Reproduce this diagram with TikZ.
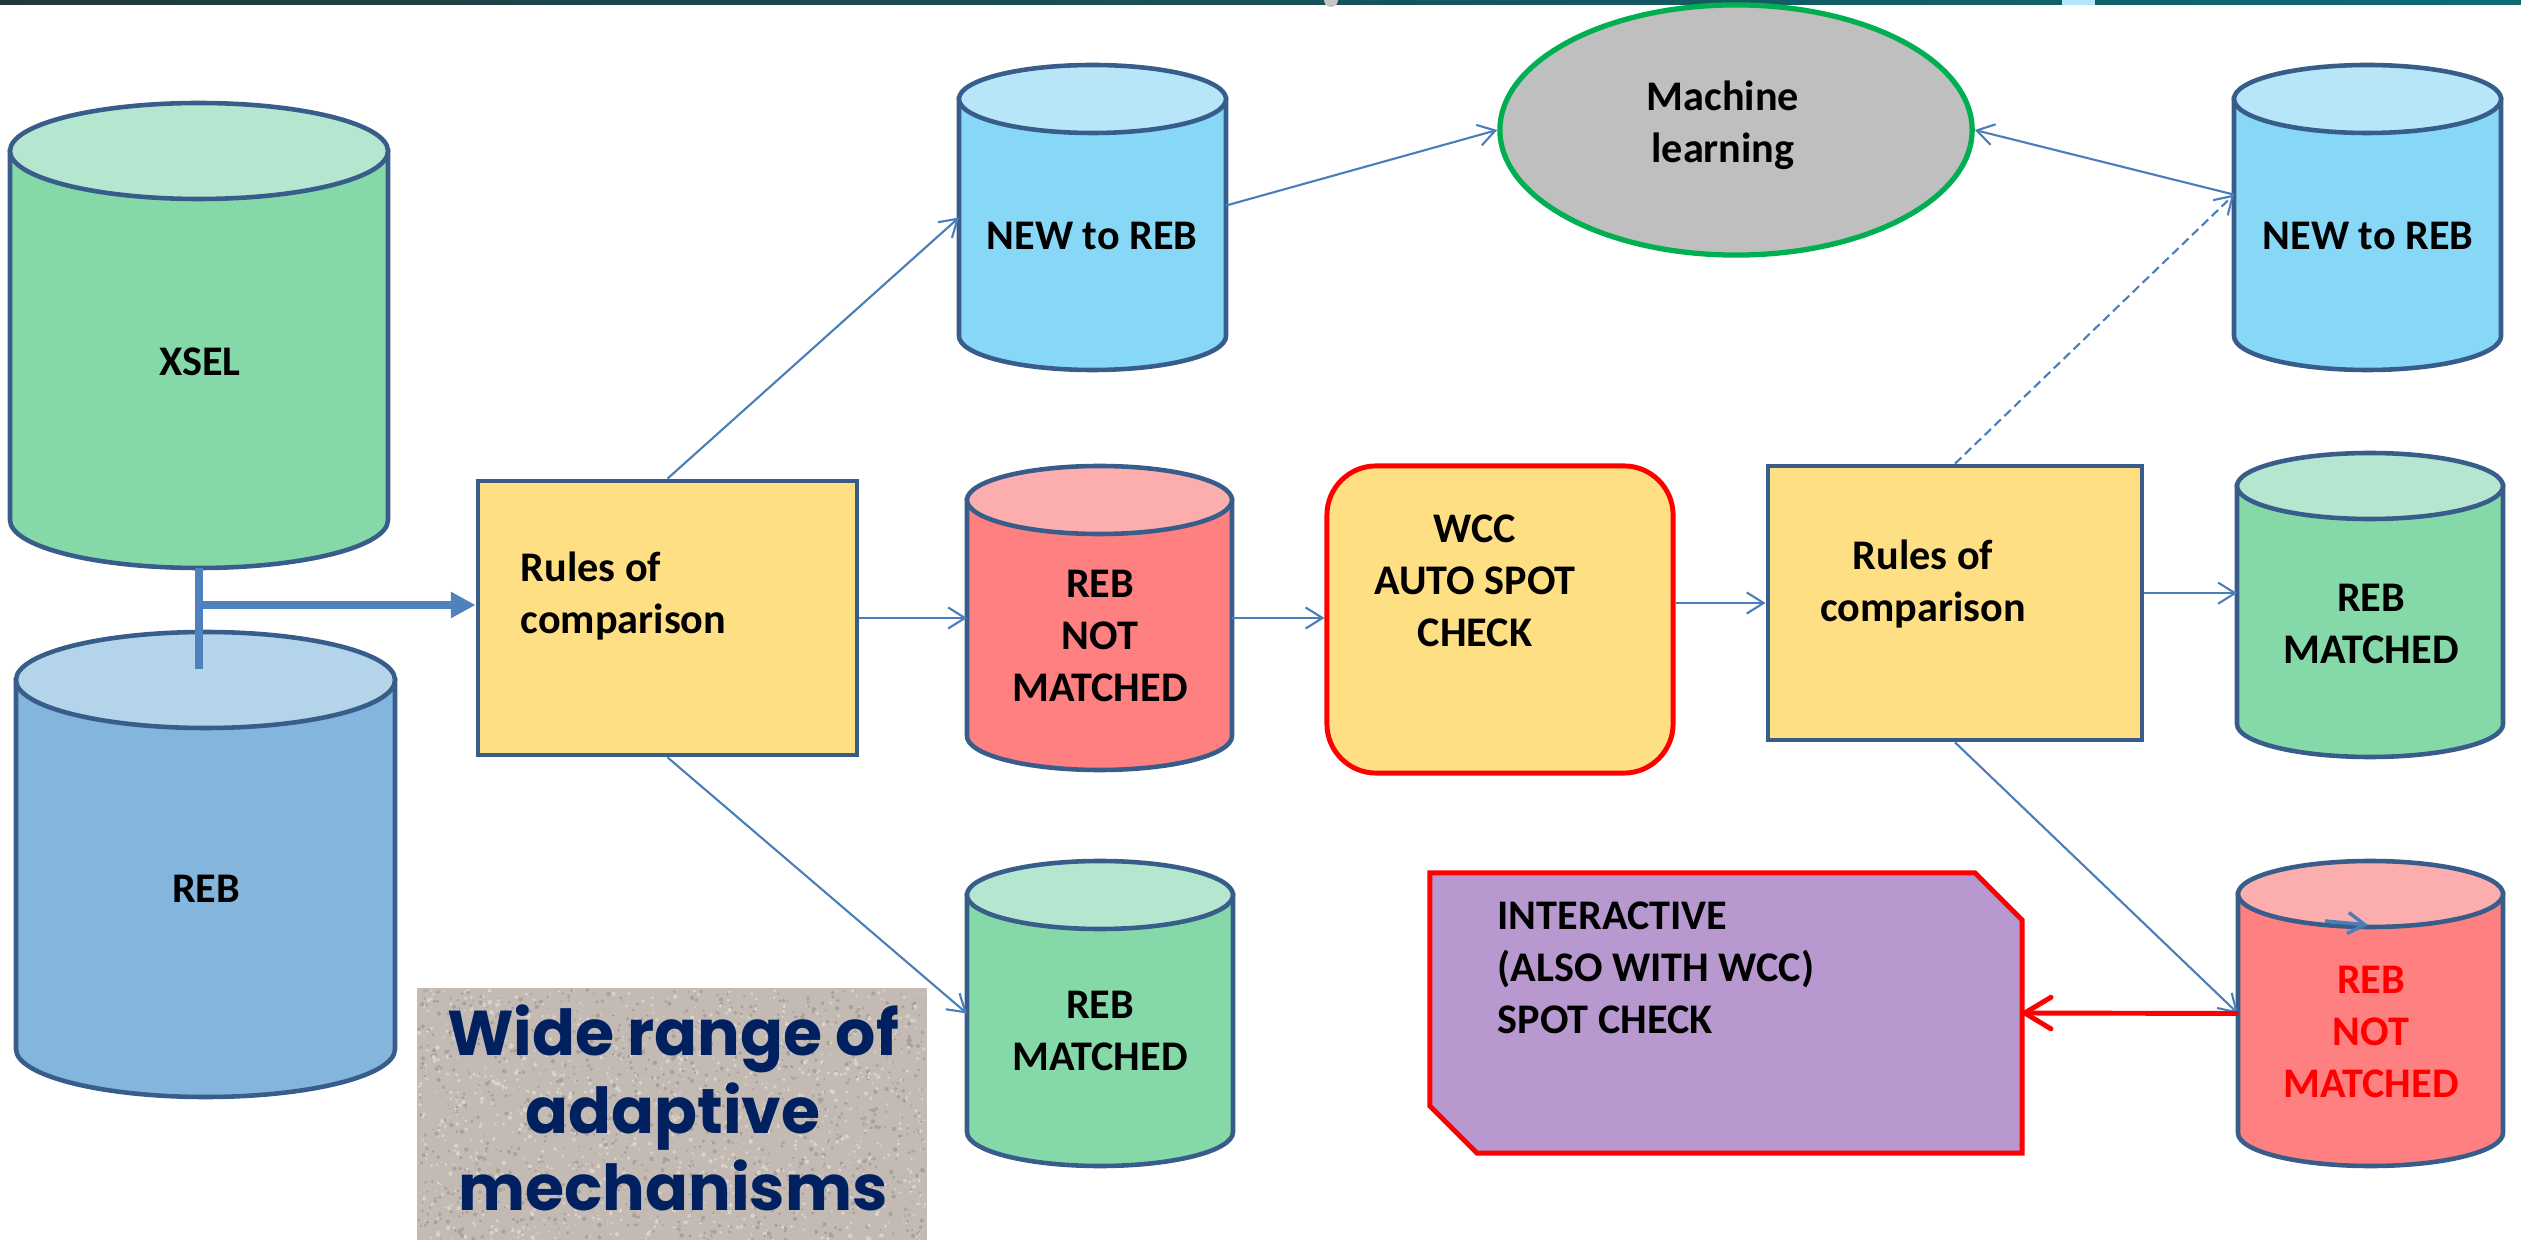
\documentclass[tikz,border=0pt]{standalone}
\usepackage{fontspec}
\setmainfont{Carlito}
\newfontfamily\wfont{Poppins}
\usetikzlibrary{arrows.meta,shapes.geometric,calc}
\definecolor{outl}{HTML}{385D8A}
\definecolor{connc}{HTML}{4A7EBB}
\definecolor{trunkc}{HTML}{4F81BD}
\definecolor{gbody}{HTML}{85D9A9}
\definecolor{gtop}{HTML}{B5E6CF}
\definecolor{bbody}{HTML}{83B5DD}
\definecolor{btop}{HTML}{B4D4EA}
\definecolor{cbody}{HTML}{87D8F6}
\definecolor{ctop}{HTML}{B7E6F8}
\definecolor{rbody}{HTML}{FF8080}
\definecolor{rtop}{HTML}{FCAEAE}
\definecolor{yel}{HTML}{FFDF84}
\definecolor{purp}{HTML}{B799CF}
\definecolor{mlgray}{HTML}{BFBFBF}
\definecolor{mlgreen}{HTML}{00B050}
\definecolor{navy}{HTML}{002060}
\definecolor{granite}{HTML}{C2BAB3}
\definecolor{grlight}{HTML}{D9D3CD}
\definecolor{grdark}{HTML}{A8A09A}
\definecolor{bannerA}{HTML}{22393C}
\definecolor{bannerB}{HTML}{0F1820}
\definecolor{bannerC}{HTML}{0D6A75}
\definecolor{pureRed}{HTML}{FF0000}
\tikzset{
  cylbox/.style={rectangle, inner sep=0pt, outer sep=0pt},
  cylline/.style={draw=outl, line width=1.3pt},
  rulebox/.style={rectangle, draw=outl, line width=1.3pt, fill=yel, inner sep=0pt},
  lbl/.style={inner sep=0pt, align=center, font=\bfseries\fontsize{12}{14.8}\selectfont},
  conn/.style={draw=connc, line width=0.6pt, -{Straight Barb[length=4.8pt,width=6pt]}},
  trunk/.style={draw=trunkc, line width=2.1pt},
  redarrow/.style={draw=pureRed, line width=1.4pt, -{Straight Barb[length=7.5pt,width=9pt,round]}},
}
% name, x1, x2, ytop, ybottom, ry, body colour, top colour
\newcommand\dbcyl[8]{%
  \pgfmathsetmacro\cylcx{(#2+#3)/2}%
  \pgfmathsetmacro\cylrx{(#3-#2)/2}%
  \pgfmathsetmacro\cylyt{#4+#6}%
  \pgfmathsetmacro\cylyb{#5-#6}%
  \pgfmathsetmacro\cylcy{(#4+#5)/2}%
  \pgfmathsetmacro\cylw{(#3-#2)*0.01}%
  \pgfmathsetmacro\cylh{(#5-#4)*0.01}%
  \node[cylbox, minimum width=\cylw cm, minimum height=\cylh cm] (#1) at (\cylcx,\cylcy) {};
  \path[cylline, fill=#7] (#2,\cylyt) -- (#2,\cylyb) arc[start angle=180, end angle=0, x radius=\cylrx, y radius=#6] -- (#3,\cylyt) -- cycle;
  \path[cylline, fill=#8] (\cylcx,\cylyt) ellipse[x radius=\cylrx, y radius=#6];
}
\begin{document}
\begin{tikzpicture}[x=0.01cm, y=-0.01cm]
\useasboundingbox (0,0) rectangle (2521,1240);
% banner strip
\shade[left color=bannerA, middle color=bannerB, right color=bannerC] (0,0) rectangle (2521,5);
\fill[white!70!cyan] (2062,0) rectangle (2095,5);
\fill[gray!45] (1331,0) ellipse[x radius=7, y radius=7];

% cylinders
\dbcyl{xsel}{10}{388}{103}{568}{48}{gbody}{gtop}
\dbcyl{reb}{16}{395}{632}{1097}{48}{bbody}{btop}
\dbcyl{nr1}{959}{1226}{65}{370}{34}{cbody}{ctop}
\dbcyl{rnm1}{967}{1232}{466}{770}{34}{rbody}{rtop}
\dbcyl{rm1}{967}{1233}{861}{1166}{34}{gbody}{gtop}
\dbcyl{nr2}{2234}{2501}{65}{370}{34}{cbody}{ctop}
\dbcyl{rm2}{2237}{2503}{453}{757}{33}{gbody}{gtop}
\dbcyl{rnm2}{2238}{2503}{861}{1166}{33}{rbody}{rtop}

% boxes
\node[rulebox, minimum width=3.79cm, minimum height=2.74cm] (rules1) at (667.5,618) {};
\node[rulebox, minimum width=3.74cm, minimum height=2.74cm] (rules2) at (1955,603) {};
\node[rectangle, rounded corners=14pt, draw=pureRed, line width=1.4pt, fill=yel, inner sep=0pt, minimum width=3.46cm, minimum height=3.07cm] (wcc) at (1500,619.5) {};
\node[ellipse, draw=mlgreen, line width=1.5pt, fill=mlgray, inner sep=0pt, minimum width=4.72cm, minimum height=2.5cm] (ml) at (1736,130) {};
\node[rectangle, inner sep=0pt, outer sep=0pt, minimum width=5.92cm, minimum height=2.8cm] (inter) at (1726,1013) {};
\draw[draw=pureRed, fill=purp, line width=1.4pt, line join=miter]
  (inter.north west) -- ([xshift=-13.4pt]inter.north east) -- ([yshift=-13.4pt]inter.north east)
  -- (inter.south east) -- ([xshift=13.4pt]inter.south west) -- ([yshift=13.4pt]inter.south west) -- cycle;

% granite panel
\node[rectangle, fill=granite, inner sep=0pt, minimum width=5.1cm, minimum height=2.58cm] (wide) at (672,1117) {};
\pgfmathsetseed{42}
\foreach \k in {1,...,2200}{
  \pgfmathsetmacro\spx{419+506*rnd}
  \pgfmathsetmacro\spy{990+250*rnd}
  \pgfmathsetmacro\spr{0.8+1.4*rnd}
  \ifodd\k \def\spc{grlight}\else\def\spc{grdark}\fi
  \fill[\spc] (\spx,\spy) circle[radius=\spr];
}
\node[inner sep=0pt, align=center, text=navy, font=\wfont\bfseries\fontsize{18}{22}\selectfont] (widet) at (673,1108) {Wide range of\\adaptive\\mechanisms};

% connectors
\coordinate (junc) at (199,605);
\coordinate (stem) at (199,669);
\draw[trunk] (xsel.south) -- (stem);
\draw[trunk, -{Triangle[length=7pt,width=7pt]}] (junc) -- (junc -| rules1.west);
\draw[conn] (rules1.north) -- (nr1.west);
\draw[conn] (rules1.east) -- (rnm1.west);
\draw[conn] (rules1.south) -- (rm1.west);
\draw[conn] ([yshift=3.4pt]nr1.east) -- (ml.west);
\draw[conn] ([yshift=6.5pt]nr2.west) -- (ml.east);
\draw[conn, dash pattern=on 2.5pt off 1.4pt] (rules2.north) -- ([yshift=6.5pt]nr2.west);
\draw[conn] (rnm1.east) -- (rnm1.east -| wcc.west);
\draw[conn] (wcc.east |- rules2.west) -- (rules2.west);
\draw[conn] ([yshift=2.8pt]rules2.east) -- ([yshift=2.8pt]rules2.east -| rm2.west);
\draw[conn] (rules2.south) -- (rnm2.west);
\draw[redarrow] (rnm2.west) -- (inter.east);
\coordinate (straya) at (2325,921);
\coordinate (strayb) at (2368,925);
\draw[conn, line width=1pt] (straya) -- (strayb);

% labels
\node[lbl] (xsel-t) at (200,362) {XSEL};
\node[lbl] (reb-t) at (206,889) {REB};
\node[lbl] (nr1-t) at (1092,236) {NEW to REB};
\node[lbl] (nr2-t) at (2368,236) {NEW to REB};
\node[lbl] (rnm1-t) at (1100,636) {REB\\NOT\\MATCHED};
\node[lbl] (rm1-t) at (1100,1031) {REB\\MATCHED};
\node[lbl] (rm2-t) at (2371,624) {REB\\MATCHED};
\node[lbl, text=pureRed] (rnm2-t) at (2371,1032) {REB\\NOT\\MATCHED};
\node[lbl, align=left, anchor=west] (rules1-t) at (520,596) {Rules of\\comparison};
\node[lbl] (rules2-t) at (1923,584) {Rules of\\comparison};
\node[lbl] (wcc-t) at (1475,581) {WCC\\AUTO SPOT\\CHECK};
\node[lbl] (ml-t) at (1723,125) {Machine\\learning};
\node[lbl, align=left, anchor=west] (inter-t) at (1497,968) {INTERACTIVE\\(ALSO WITH WCC)\\SPOT CHECK};
\end{tikzpicture}
\end{document}
